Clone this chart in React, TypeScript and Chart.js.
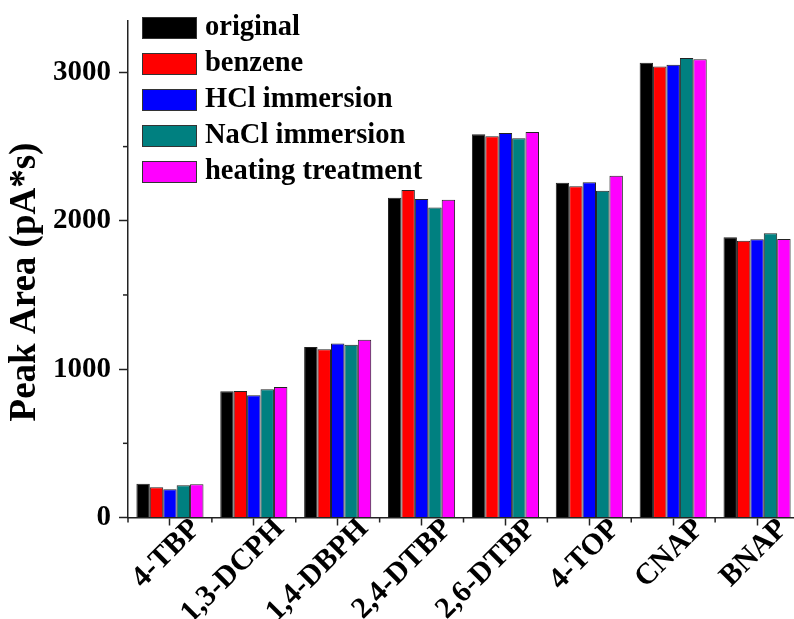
import React, { useEffect, useRef } from "react";
import { Chart, registerables } from "chart.js";

Chart.register(...registerables);

const categories = ["4-TBP", "1,3-DCPH", "1,4-DBPH", "2,4-DTBP", "2,6-DTBP", "4-TOP", "CNAP", "BNAP"];
const original = [228, 851, 1150, 2156, 2584, 2256, 3065, 1889];
const benzene = [204, 853, 1134, 2208, 2570, 2233, 3040, 1866];
const hclImmersion = [190, 824, 1172, 2146, 2591, 2260, 3052, 1876];
const naclImmersion = [217, 864, 1165, 2089, 2557, 2202, 3097, 1916];
const heatingTreatment = [224, 880, 1198, 2141, 2599, 2303, 3088, 1878];
const seriesLabels = ["original", "benzene", "HCl immersion", "NaCl immersion", "heating treatment"];
const seriesColors = ["#000000", "#FF0000", "#0000FF", "#008080", "#FF00FF"];
const yTickValues = [0, 1000, 2000, 3000];
const yMinorValues = [500, 1500, 2500];
const yMax = 3350;
const yAxisTitle = "Peak Area (pA*s)";

const FONT = "'Liberation Serif', 'Times New Roman', serif";

const extrasPlugin = {
  id: "extras",
  afterDraw(chart: any) {
    const ctx = chart.ctx;
    const x = chart.scales.x;
    const y = chart.scales.y;
    const area = chart.chartArea;
    ctx.save();
    ctx.strokeStyle = "#222";
    ctx.lineWidth = 1.5;
    yMinorValues.forEach((v) => {
      const py = y.getPixelForValue(v);
      ctx.beginPath();
      ctx.moveTo(area.left - 5, py);
      ctx.lineTo(area.left, py);
      ctx.stroke();
    });
    const half = (x.getPixelForValue(1) - x.getPixelForValue(0)) / 2;
    for (let i = 0; i <= categories.length; i++) {
      const px = x.getPixelForValue(i) - half;
      ctx.beginPath();
      ctx.moveTo(px, area.bottom);
      ctx.lineTo(px, area.bottom + 5);
      ctx.stroke();
    }
    // y-axis title
    ctx.save();
    ctx.translate(25, (area.top + area.bottom) / 2 + 13);
    ctx.rotate(-Math.PI / 2);
    ctx.font = `bold 37px ${FONT}`;
    ctx.fillStyle = "#000";
    ctx.textAlign = "center";
    ctx.textBaseline = "middle";
    ctx.fillText(yAxisTitle, 0, 0);
    ctx.restore();
    // legend
    const boxLeft = area.left + 14;
    const boxW = 55;
    const boxH = 22;
    const pitch = 36;
    const top0 = 17;
    ctx.font = `bold 28.5px ${FONT}`;
    ctx.textBaseline = "middle";
    ctx.textAlign = "left";
    chart.data.datasets.forEach((ds: any, i: number) => {
      const top = top0 + i * pitch;
      ctx.fillStyle = ds.backgroundColor;
      ctx.fillRect(boxLeft, top, boxW, boxH);
      ctx.lineWidth = 1;
      ctx.strokeStyle = "#333";
      ctx.strokeRect(boxLeft + 0.5, top + 0.5, boxW - 1, boxH - 1);
      ctx.fillStyle = "#000";
      ctx.fillText(ds.label, boxLeft + boxW + 8, top + boxH / 2);
    });
    ctx.restore();
  },
};

export default function App() {
  const ref = useRef<HTMLCanvasElement>(null);
  useEffect(() => {
    if (!ref.current) return;
    const allSeries = [original, benzene, hclImmersion, naclImmersion, heatingTreatment];
    const chart = new Chart(ref.current, {
      type: "bar",
      data: {
        labels: categories,
        datasets: allSeries.map((d, i) => ({
          label: seriesLabels[i],
          data: d,
          backgroundColor: seriesColors[i],
          borderColor: "#222",
          borderWidth: 1,
          categoryPercentage: 0.8,
          barPercentage: 1.0,
        })),
      },
      options: {
        responsive: false,
        animation: false,
        layout: { padding: { left: 0, right: 1, top: 20.5, bottom: 0 } },
        plugins: { legend: { display: false }, tooltip: { enabled: false } },
        scales: {
          x: {
            grid: {
              offset: false,
              drawOnChartArea: false,
              drawTicks: true,
              tickLength: 8,
              tickColor: "#222",
              tickWidth: 1.5,
            },
            border: { display: true, color: "#222", width: 1.5 },
            ticks: {
              color: "#000",
              font: { family: FONT, size: 30, weight: "bold" },
              maxRotation: 45,
              minRotation: 45,
              padding: -14,
              labelOffset: 26,
              autoSkip: false,
            },
            afterFit: (s: any) => {
              s.height = 101.5;
              s.paddingLeft = 0;
              s.paddingRight = 0;
            },
          },
          y: {
            min: 0,
            max: yMax,
            grid: {
              drawOnChartArea: false,
              drawTicks: true,
              tickLength: 9,
              tickColor: "#222",
              tickWidth: 1.5,
            },
            border: { display: true, color: "#222", width: 1.5 },
            afterBuildTicks: (s: any) => {
              s.ticks = yTickValues.map((v) => ({ value: v }));
            },
            ticks: {
              color: "#000",
              font: { family: FONT, size: 29, weight: "bold" },
              padding: 8,
              includeBounds: false,
              callback: (v: any) => String(v),
            },
            afterFit: (s: any) => {
              s.width = 128;
              s.paddingTop = 0;
              s.paddingBottom = 0;
            },
          },
        },
      },
      plugins: [extrasPlugin],
    });
    return () => chart.destroy();
  }, []);
  return (
    <div style={{ position: "fixed", left: 0, top: 0, width: 794, height: 619, overflow: "hidden", background: "#fff" }}>
      <canvas ref={ref} width={800} height={619} style={{ display: "block" }} />
    </div>
  );
}
